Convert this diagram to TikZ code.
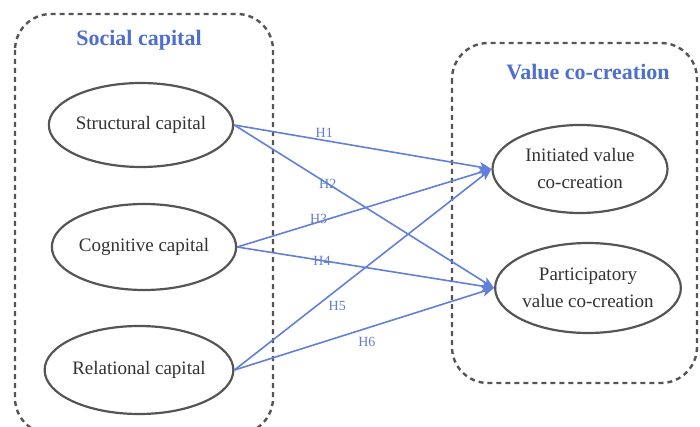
\documentclass[tikz,border=0pt]{standalone}
\usepackage{fontspec}
\setmainfont{Liberation Serif}
\usetikzlibrary{shapes.geometric,arrows.meta}
\definecolor{ttl}{RGB}{78,110,208}
\definecolor{arr}{RGB}{98,128,218}
\definecolor{lbl}{RGB}{100,125,210}
\definecolor{edge}{RGB}{85,85,85}
\definecolor{txt}{RGB}{50,50,50}
\tikzset{
  groupbox/.style={draw=edge, line width=2.4pt, dash pattern=on 5pt off 4pt, rounded corners=36pt},
  construct/.style={ellipse, draw=edge, line width=2.2pt, inner sep=0pt, text=txt, font=\fontsize{19}{27}\selectfont, align=center},
  grouptitle/.style={text=ttl, font=\fontsize{22}{26}\selectfont\bfseries},
  hyp/.style={draw=arr, line width=1.6pt, -{Stealth[length=12pt,width=10pt,inset=3pt]}},
  hlabel/.style={text=lbl, font=\fontsize{14}{16}\selectfont, inner sep=1pt}
}
\begin{document}
\begin{tikzpicture}[x=1pt,y=-1pt]
\useasboundingbox (0,0) rectangle (700,427);
\fill[white] (0,0) rectangle (700,427);
% group boxes
\draw[groupbox] (15,14) rectangle (273,434);
\draw[groupbox] (452,43) rectangle (697,383);
\node[grouptitle] (tsc) at (139,40) {Social capital};
\node[grouptitle] (tvc) at (588,72) {Value co-creation};
% constructs
\node[construct, minimum width=174pt, minimum height=84pt] (sc) at (141,125) {Structural capital};
\node[construct, minimum width=172pt, minimum height=86pt] (cc) at (144,247) {Cognitive capital};
\node[construct, minimum width=172pt, minimum height=88pt] (rc) at (139,370) {Relational capital};
\node[construct, minimum width=175pt, minimum height=88pt] (iv) at (580,169) {Initiated value\\co-creation};
\node[construct, minimum width=172pt, minimum height=90pt] (pv) at (588,288) {Participatory\\value co-creation};
% hypotheses
\draw[hyp] (sc.east) -- node[hlabel, pos=0.35, yshift=8pt] {H1} (iv.west);
\draw[hyp] (sc.east) -- node[hlabel, pos=0.36] {H2} (pv.west);
\draw[hyp] (cc.east) -- node[hlabel, pos=0.32, yshift=3pt] {H3} (iv.west);
\draw[hyp] (cc.east) -- node[hlabel, pos=0.33] {H4} (pv.west);
\draw[hyp] (rc.east) -- node[hlabel, pos=0.40, yshift=-16pt] {H5} (iv.west);
\draw[hyp] (rc.east) -- node[hlabel, pos=0.51, yshift=-14pt] {H6} (pv.west);
\end{tikzpicture}
\end{document}
